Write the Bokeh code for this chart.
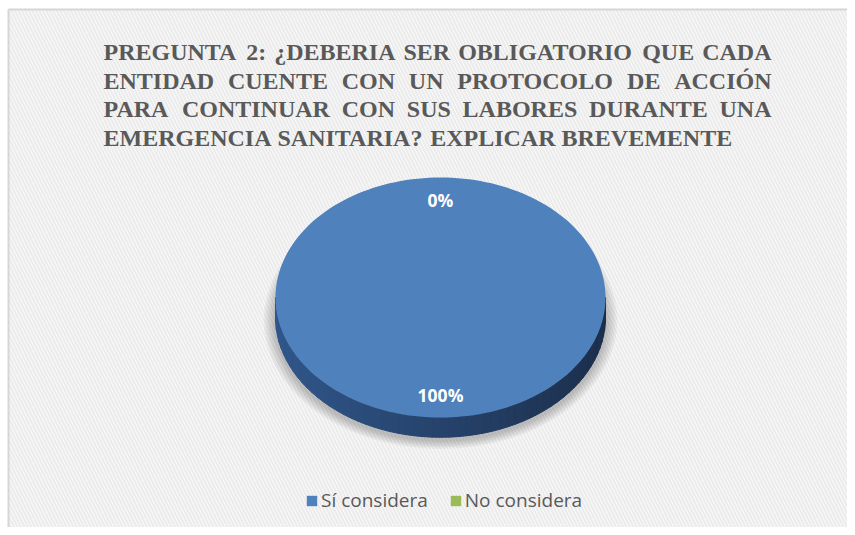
import math
from bokeh.plotting import figure
from bokeh.models import Range1d, Label, Legend, LegendItem
from bokeh.embed import file_html
from bokeh.resources import INLINE

# ---------------- data ----------------
categories = ["Sí considera", "No considera"]
values = [100, 0]
pct_labels = ["100%", "0%"]
colors = ["#4F81BD", "#9BBB59"]
title_lines = [
    "PREGUNTA 2: ¿DEBERIA SER OBLIGATORIO QUE CADA",
    "ENTIDAD CUENTE CON UN PROTOCOLO DE ACCIÓN",
    "PARA CONTINUAR CON SUS LABORES DURANTE UNA",
    "EMERGENCIA SANITARIA? EXPLICAR BREVEMENTE",
]

# ---------------- layout ----------------
W, H = 847, 527
SX, SY = 165.0, 120.0          # pixels per data unit (ellipse radii)
CX, CY = 440.0, 297.0          # pie centre in pixels (from top-left)
DEPTH = 0.165                  # 3-D side depth in y units

def dx(px):
    return (px - CX) / SX

def dy(py):
    return (CY - py) / SY

p = figure(width=W, height=H, output_backend="svg", toolbar_location=None,
           x_range=Range1d(dx(0), dx(W)), y_range=Range1d(dy(H), dy(0)),
           min_border=0, tools="")
p.axis.visible = False
p.grid.visible = False
p.outline_line_color = None
p.background_fill_color = "white"
p.border_fill_color = "white"

# textured chart-area background with top/left border
p.quad(left=dx(8), right=dx(W), bottom=dy(H), top=dy(9),
       fill_color="white", line_color=None,
       hatch_pattern="\\", hatch_color="#ececec", hatch_scale=7, hatch_weight=2.5)
p.line([dx(8), dx(W)], [dy(9), dy(9)], line_color="#d6d6d6", line_width=2)
p.line([dx(8), dx(8)], [dy(9), dy(H)], line_color="#d6d6d6", line_width=2)

# soft shadow
for k in range(6):
    s = 1.0 + 0.012 * (k + 1)
    ang = [2 * math.pi * i / 120 for i in range(121)]
    p.patch([s * math.cos(a) for a in ang],
            [s * math.sin(a) - DEPTH - 0.025 for a in ang],
            fill_color="#000000", fill_alpha=0.04, line_color=None)

# 3-D side (of the slice covering the lower half)
total = float(sum(values))
N = 60
def lerp(c1, c2, t):
    a = [int(c1[i:i + 2], 16) for i in (1, 3, 5)]
    b = [int(c2[i:i + 2], 16) for i in (1, 3, 5)]
    return "#%02x%02x%02x" % tuple(int(round(a[j] + (b[j] - a[j]) * t)) for j in range(3))

for k in range(N):
    t0 = math.pi + math.pi * k / N
    t1 = math.pi + math.pi * (k + 1) / N
    xs = [math.cos(t0), math.cos(t1), math.cos(t1), math.cos(t0)]
    ys = [math.sin(t0), math.sin(t1), math.sin(t1) - DEPTH, math.sin(t0) - DEPTH]
    xm = (math.cos(t0) + math.cos(t1)) / 2
    c = lerp("#30568a", "#1c2f4c", (xm + 1) / 2)
    p.patch(xs, ys, fill_color=c, line_color=c, line_width=1)

# top faces of slices, starting at 12 o'clock and going clockwise
start = math.pi / 2
legend_items = []
label_pos = []
for cat, v, col in zip(categories, values, colors):
    sweep = 2 * math.pi * v / total
    end = start - sweep
    steps = max(2, int(180 * v / total))
    angs = [start - sweep * i / steps for i in range(steps + 1)]
    xs = [0.0] + [math.cos(a) for a in angs]
    ys = [0.0] + [math.sin(a) for a in angs]
    r = p.patch(xs, ys, fill_color=col, line_color=None)
    legend_items.append(LegendItem(label=cat, renderers=[r]))
    mid = (start + end) / 2
    label_pos.append((0.82 * math.cos(mid), 0.81 * math.sin(mid)))
    start = end

for (lx, ly), txt in zip(label_pos, pct_labels):
    p.add_layout(Label(x=lx, y=ly, text=txt, text_align="center", text_baseline="middle",
                       text_font="Open Sans", text_font_style="bold",
                       text_font_size="17.5px", text_color="white"))

# justified title
WID = {'A': 722, 'B': 667, 'C': 722, 'D': 722, 'E': 667, 'F': 611, 'G': 778, 'H': 778,
       'I': 389, 'J': 500, 'K': 778, 'L': 667, 'M': 944, 'N': 722, 'O': 778, 'Ó': 778,
       'P': 611, 'Q': 778, 'R': 722, 'S': 556, 'T': 667, 'U': 722, 'V': 722, 'W': 1000,
       'X': 722, 'Y': 722, 'Z': 667, '2': 500, ':': 333, '?': 500, '¿': 500, ' ': 250}
FS = 24.0
LEFT, RIGHT = 103.0, 771.0
baselines = [51.5, 80.0, 108.5, 137.0]

def wwidth(w):
    return sum(WID.get(ch, 700) for ch in w) / 1000.0 * FS

for li, (line, base) in enumerate(zip(title_lines, baselines)):
    words = line.split(" ")
    widths = [wwidth(w) for w in words]
    if li < len(title_lines) - 1:
        gap = (RIGHT - LEFT - sum(widths)) / (len(words) - 1)
    else:
        gap = 0.25 * FS
    x = LEFT
    for w, ww in zip(words, widths):
        p.add_layout(Label(x=dx(x), y=dy(base), text=w, text_align="left",
                           text_baseline="alphabetic", text_font="Liberation Serif",
                           text_font_style="bold", text_font_size="%.1fpx" % FS,
                           text_color="#595959"))
        x += ww + gap

legend = Legend(items=legend_items, orientation="horizontal",
                location=(305, 14), padding=0, margin=0, spacing=21,
                glyph_width=13, glyph_height=13, label_standoff=3, label_height=20,
                label_text_font="Open Sans", label_text_font_size="19px",
                label_text_color="#595959",
                background_fill_alpha=0, border_line_color=None)
p.add_layout(legend)

open("out.html", "w").write(file_html(p, INLINE))
